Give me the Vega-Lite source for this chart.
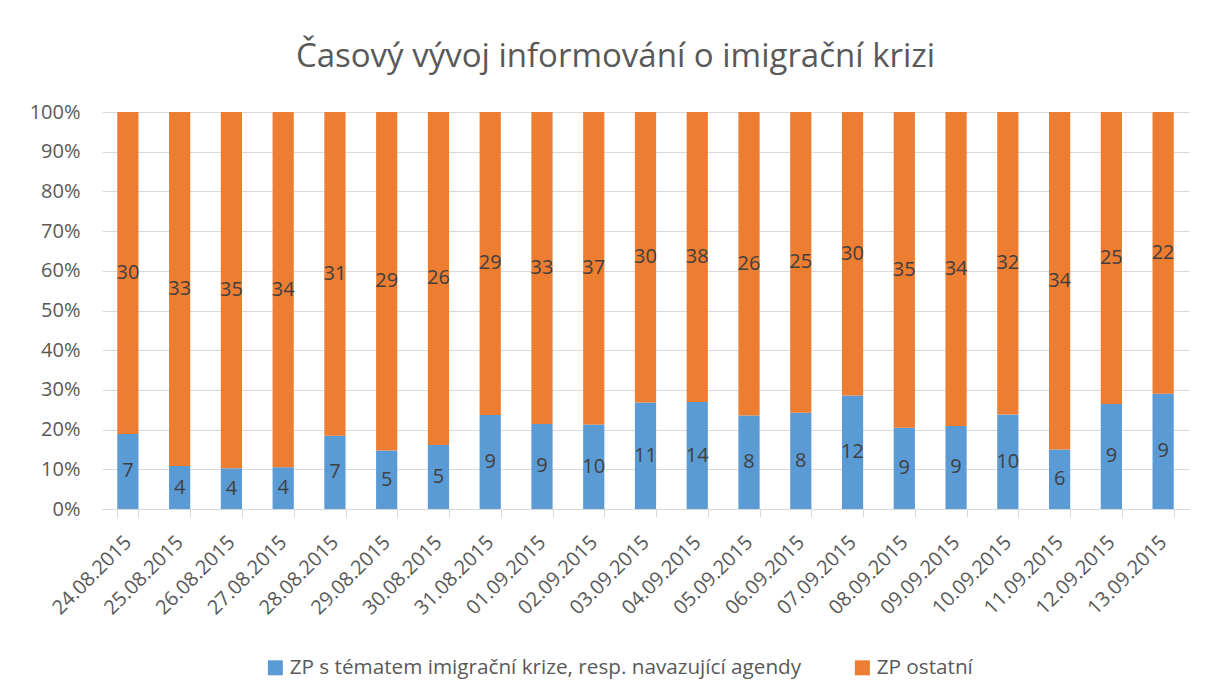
{
  "$schema": "https://vega.github.io/schema/vega-lite/v6.json",
  "width": 1087,
  "height": 397,
  "autosize": {"type": "none"},
  "padding": {"left": 102, "top": 112, "right": 19, "bottom": 184},
  "background": "white",
  "config": {
    "font": "Open Sans",
    "view": {"stroke": null}
  },
  "title": {
    "text": "Časový vývoj informování o imigrační krizi",
    "fontSize": 33,
    "fontWeight": "normal",
    "color": "#595959",
    "font": "Open Sans",
    "anchor": "middle",
    "frame": "group",
    "baseline": "alphabetic",
    "offset": 2,
    "dx": -30
  },
  "data": {
    "values": [
      {"date": "24.08.2015", "series": "ZP s tématem imigrační krize, resp. navazující agendy", "value": 7},
      {"date": "24.08.2015", "series": "ZP ostatní", "value": 30},
      {"date": "25.08.2015", "series": "ZP s tématem imigrační krize, resp. navazující agendy", "value": 4},
      {"date": "25.08.2015", "series": "ZP ostatní", "value": 33},
      {"date": "26.08.2015", "series": "ZP s tématem imigrační krize, resp. navazující agendy", "value": 4},
      {"date": "26.08.2015", "series": "ZP ostatní", "value": 35},
      {"date": "27.08.2015", "series": "ZP s tématem imigrační krize, resp. navazující agendy", "value": 4},
      {"date": "27.08.2015", "series": "ZP ostatní", "value": 34},
      {"date": "28.08.2015", "series": "ZP s tématem imigrační krize, resp. navazující agendy", "value": 7},
      {"date": "28.08.2015", "series": "ZP ostatní", "value": 31},
      {"date": "29.08.2015", "series": "ZP s tématem imigrační krize, resp. navazující agendy", "value": 5},
      {"date": "29.08.2015", "series": "ZP ostatní", "value": 29},
      {"date": "30.08.2015", "series": "ZP s tématem imigrační krize, resp. navazující agendy", "value": 5},
      {"date": "30.08.2015", "series": "ZP ostatní", "value": 26},
      {"date": "31.08.2015", "series": "ZP s tématem imigrační krize, resp. navazující agendy", "value": 9},
      {"date": "31.08.2015", "series": "ZP ostatní", "value": 29},
      {"date": "01.09.2015", "series": "ZP s tématem imigrační krize, resp. navazující agendy", "value": 9},
      {"date": "01.09.2015", "series": "ZP ostatní", "value": 33},
      {"date": "02.09.2015", "series": "ZP s tématem imigrační krize, resp. navazující agendy", "value": 10},
      {"date": "02.09.2015", "series": "ZP ostatní", "value": 37},
      {"date": "03.09.2015", "series": "ZP s tématem imigrační krize, resp. navazující agendy", "value": 11},
      {"date": "03.09.2015", "series": "ZP ostatní", "value": 30},
      {"date": "04.09.2015", "series": "ZP s tématem imigrační krize, resp. navazující agendy", "value": 14},
      {"date": "04.09.2015", "series": "ZP ostatní", "value": 38},
      {"date": "05.09.2015", "series": "ZP s tématem imigrační krize, resp. navazující agendy", "value": 8},
      {"date": "05.09.2015", "series": "ZP ostatní", "value": 26},
      {"date": "06.09.2015", "series": "ZP s tématem imigrační krize, resp. navazující agendy", "value": 8},
      {"date": "06.09.2015", "series": "ZP ostatní", "value": 25},
      {"date": "07.09.2015", "series": "ZP s tématem imigrační krize, resp. navazující agendy", "value": 12},
      {"date": "07.09.2015", "series": "ZP ostatní", "value": 30},
      {"date": "08.09.2015", "series": "ZP s tématem imigrační krize, resp. navazující agendy", "value": 9},
      {"date": "08.09.2015", "series": "ZP ostatní", "value": 35},
      {"date": "09.09.2015", "series": "ZP s tématem imigrační krize, resp. navazující agendy", "value": 9},
      {"date": "09.09.2015", "series": "ZP ostatní", "value": 34},
      {"date": "10.09.2015", "series": "ZP s tématem imigrační krize, resp. navazující agendy", "value": 10},
      {"date": "10.09.2015", "series": "ZP ostatní", "value": 32},
      {"date": "11.09.2015", "series": "ZP s tématem imigrační krize, resp. navazující agendy", "value": 6},
      {"date": "11.09.2015", "series": "ZP ostatní", "value": 34},
      {"date": "12.09.2015", "series": "ZP s tématem imigrační krize, resp. navazující agendy", "value": 9},
      {"date": "12.09.2015", "series": "ZP ostatní", "value": 25},
      {"date": "13.09.2015", "series": "ZP s tématem imigrační krize, resp. navazující agendy", "value": 9},
      {"date": "13.09.2015", "series": "ZP ostatní", "value": 22}
    ]
  },
  "transform": [
    {"stack": "value", "groupby": ["date"], "sort": [{"field": "series", "order": "descending"}], "as": ["v0", "v1"], "offset": "normalize"},
    {"calculate": "(datum.v0 + datum.v1) / 2", "as": "mid"}
  ],
  "encoding": {
    "x": {
      "field": "date",
      "type": "ordinal",
      "sort": null,
      "title": null,
      "scale": {"paddingInner": 0.59, "paddingOuter": 0.295},
      "axis": {
        "labelAngle": -45,
        "labelAlign": "right",
        "labelBaseline": "middle",
        "labelFontSize": 20,
        "labelColor": "#595959",
        "labelPadding": 22,
        "labelFont": "Open Sans",
        "domainColor": "#D9D9D9",
        "domainWidth": 1,
        "tickColor": "#D9D9D9",
        "tickSize": 8,
        "tickBand": "extent",
        "grid": false
      }
    },
    "y": {
      "field": "v0",
      "type": "quantitative",
      "title": null,
      "scale": {"domain": [0, 1], "nice": false},
      "axis": {
        "values": [0, 0.1, 0.2, 0.3, 0.4, 0.5, 0.6, 0.7, 0.8, 0.9, 1],
        "format": ".0%",
        "labelFontSize": 20,
        "labelColor": "#595959",
        "labelFont": "Open Sans",
        "labelPadding": 22,
        "labelOverlap": false,
        "domain": false,
        "ticks": false,
        "gridColor": "#D9D9D9",
        "gridWidth": 1
      }
    }
  },
  "layer": [
    {
      "mark": {"type": "bar"},
      "encoding": {
        "y2": {"field": "v1"},
        "color": {
          "field": "series",
          "type": "nominal",
          "sort": ["ZP s tématem imigrační krize, resp. navazující agendy", "ZP ostatní"],
          "scale": {
            "domain": ["ZP s tématem imigrační krize, resp. navazující agendy", "ZP ostatní"],
            "range": ["#5B9BD5", "#ED7D31"]
          },
          "legend": {
            "title": null,
            "orient": "none",
            "direction": "horizontal",
            "legendX": 163,
            "legendY": 545,
            "symbolType": "square",
            "symbolSize": 225,
            "symbolStrokeWidth": 0,
            "labelFontSize": 20.7,
            "labelColor": "#595959",
            "labelFont": "Open Sans",
            "labelLimit": 800,
            "columnPadding": 50,
            "symbolOffset": 0,
            "labelOffset": 4
          }
        }
      }
    },
    {
      "mark": {"type": "text", "fontSize": 20, "color": "#404040", "font": "Open Sans", "baseline": "middle", "align": "center"},
      "encoding": {
        "y": {"field": "mid", "type": "quantitative"},
        "text": {"field": "value", "type": "quantitative"}
      }
    }
  ]
}
